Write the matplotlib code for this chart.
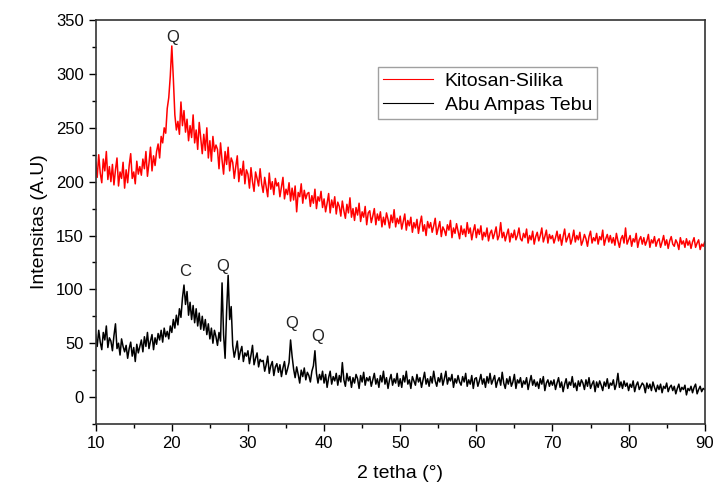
import numpy as np
import matplotlib
matplotlib.use("Agg")
import matplotlib.pyplot as plt
from matplotlib.ticker import MultipleLocator

plt.rcParams['font.family'] = ['Liberation Sans', 'DejaVu Sans']

# scan grid, 10..90 deg, step 0.2
two_theta = np.linspace(10, 90, 401)

# Kitosan-Silika (one row = 2 deg)
kitosan_silika = [
    218, 204, 225, 208, 199, 221, 210, 228, 202, 214,
    200, 216, 197, 211, 222, 196, 209, 203, 218, 194,
    211, 199, 215, 226, 203, 209, 198, 219, 207, 214,
    206, 221, 212, 228, 205, 217, 232, 210, 224, 215,
    228, 235, 222, 242, 236, 250, 245, 268, 278, 298,
    326, 296, 262, 248, 256, 244, 274, 252, 266, 246,
    258, 238, 252, 241, 262, 236, 248, 230, 255, 240,
    226, 244, 229, 250, 222, 238, 219, 242, 228, 234,
    230, 212, 236, 220, 207, 228, 216, 232, 210, 222,
    218, 203, 214, 224, 200, 212, 206, 219, 198, 211,
    207, 194, 213, 200, 191, 209, 203, 196, 212, 198,
    190, 204, 195, 186, 208, 193, 200, 188, 203, 196,
    199, 186, 195, 204, 184, 193, 188, 199, 182, 194,
    183, 196, 172, 190, 186, 198, 180, 192, 184, 189,
    190, 177, 187, 180, 193, 175, 186, 182, 191, 176,
    184, 172, 180, 189, 171, 183, 176, 186, 170, 181,
    177, 168, 182, 173, 166, 179, 171, 185, 167, 175,
    164, 176, 169, 180, 163, 172, 167, 177, 160, 171,
    173, 162, 168, 175, 160, 170, 164, 172, 158, 167,
    160, 171, 165, 157, 169, 162, 174, 158, 166, 161,
    168, 156, 163, 170, 155, 164, 159, 167, 153, 162,
    157, 165, 152, 161, 168, 154, 160, 150, 163, 157,
    162, 153, 159, 166, 151, 157, 163, 149, 158, 155,
    150, 160, 155, 164, 148, 157, 152, 161, 154, 147,
    159, 151, 156, 149, 162, 152, 157, 146, 154, 160,
    148, 156, 151, 159, 146, 153, 149, 157, 145, 152,
    155, 147, 152, 158, 146, 150, 162, 148, 153, 145,
    151, 156, 144, 152, 148, 155, 146, 150, 157, 147,
    145, 152, 148, 156, 143, 150, 146, 154, 142, 149,
    153, 145, 150, 157, 144, 149, 155, 143, 151, 147,
    150, 143, 148, 154, 145, 151, 141, 149, 156, 144,
    148, 152, 142, 147, 155, 144, 150, 146, 153, 141,
    145, 151, 147, 140, 149, 154, 143, 148, 145, 152,
    142, 149, 146, 155, 141, 147, 151, 144, 150, 143,
    148, 141, 152, 145, 139, 147, 150, 143, 157, 142,
    146, 150, 140, 147, 144, 152, 139, 146, 149, 142,
    148, 141, 145, 151, 139, 146, 143, 149, 140, 145,
    147, 139, 144, 150, 141, 146, 138, 145, 149, 142,
    140, 146, 143, 137, 148, 142, 145, 139, 147, 141,
    145, 138, 144, 148, 139, 143, 146, 137, 142, 140,
    144,
]

# Abu Ampas Tebu
abu_ampas_tebu = [
    58, 47, 62, 51, 44, 60, 53, 66, 46, 55,
    52, 43, 57, 68, 45, 50, 39, 54, 47, 42,
    48, 36, 45, 51, 38, 46, 33, 49, 41, 47,
    53, 42, 56, 47, 60, 45, 52, 58, 44, 55,
    49, 59, 53, 62, 51, 64, 56, 61, 54, 66,
    60, 72, 64, 76, 67, 82, 74, 92, 104, 86,
    98, 76, 88, 72, 85, 69, 82, 66, 78, 63,
    75, 62, 72, 58, 68, 54, 64, 50, 62, 56,
    48, 60, 52, 106, 58, 36, 80, 113, 72, 84,
    48, 37, 44, 52, 35, 42, 47, 33, 41, 38,
    43, 31, 39, 48, 30, 36, 41, 28, 35, 33,
    34, 24, 30, 38, 22, 29, 33, 20, 28, 31,
    23, 30, 19, 27, 33, 21, 26, 32, 53, 38,
    26, 18, 28, 21, 13, 25, 19, 27, 16, 23,
    20, 14, 24, 29, 43, 22, 13, 21, 16, 24,
    13, 21, 9, 18, 24, 12, 19, 15, 22, 11,
    20, 14, 32, 16, 10, 22, 15, 19, 9, 18,
    13, 21, 17, 8, 20, 14, 23, 11, 18, 15,
    19, 10, 16, 22, 12, 17, 9, 20, 14, 24,
    12, 18, 8, 16, 21, 11, 17, 13, 22, 10,
    17, 9, 20, 14, 24, 12, 16, 8, 19, 15,
    11, 21, 14, 18, 9, 16, 23, 12, 17, 10,
    19, 13, 24, 15, 10, 18, 14, 22, 11, 17,
    24, 12, 18, 15, 21, 9, 17, 13, 20, 14,
    11, 19, 14, 22, 10, 16, 12, 20, 8, 17,
    18, 10, 15, 21, 12, 17, 9, 19, 13, 22,
    12, 16, 20, 9, 15, 18, 11, 23, 13, 8,
    17, 12, 19, 10, 14, 21, 8, 16, 13, 18,
    9, 15, 12, 18, 7, 14, 20, 11, 16, 10,
    14, 8, 17, 12, 19, 6, 13, 16, 10, 15,
    11, 16, 7, 13, 18, 9, 14, 5, 12, 17,
    8, 14, 11, 19, 9, 13, 6, 15, 10, 16,
    13, 7, 16, 10, 18, 8, 12, 15, 5, 14,
    9, 15, 11, 6, 14, 10, 17, 8, 13, 11,
    16, 7, 12, 22, 9, 14, 8, 15, 10, 13,
    6, 12, 9, 15, 5, 11, 14, 7, 10, 13,
    11, 4, 13, 8, 12, 6, 14, 9, 5, 11,
    7, 12, 4, 10, 8, 13, 5, 9, 11, 6,
    10, 3, 8, 12, 5, 9, 7, 11, 2, 8,
    6, 10, 4, 9, 12, 3, 7, 10, 5, 8,
    7,
]

# peak labels: (text, x, y)
peak_text = ["Q", "C", "Q", "Q", "Q"]
peak_x = [20.1, 21.8, 26.7, 35.7, 39.2]
peak_y = [334, 117, 121, 68, 56]

fig = plt.figure(figsize=(7.14, 4.91), dpi=100)
ax = fig.add_axes([0.134, 0.1365, 0.853, 0.8225])

ax.plot(two_theta, kitosan_silika, color="red", lw=1.1, label="Kitosan-Silika")
ax.plot(two_theta, abu_ampas_tebu, color="black", lw=1.1, label="Abu Ampas Tebu")

for t, px, py in zip(peak_text, peak_x, peak_y):
    ax.text(px, py, t, ha="center", va="center", fontsize=12, color="#222222")

ax.set_xlim(10, 90)
ax.set_ylim(-25, 350)
ax.xaxis.set_major_locator(MultipleLocator(10))
ax.xaxis.set_minor_locator(MultipleLocator(5))
ax.yaxis.set_major_locator(MultipleLocator(50))
ax.yaxis.set_minor_locator(MultipleLocator(25))
ax.tick_params(which="major", direction="out", length=5, width=1, labelsize=12)
ax.tick_params(which="minor", direction="out", length=3, width=1)
for s in ax.spines.values():
    s.set_linewidth(1.2)
    s.set_color("#333333")

ax.set_xlabel("2 tetha (°)", fontsize=14, labelpad=10)
ax.set_ylabel("Intensitas (A.U)", fontsize=14, labelpad=6)

leg = ax.legend(loc="upper left", bbox_to_anchor=(0.463, 0.883), fontsize=14,
                frameon=True, fancybox=False, edgecolor="#888888",
                handlelength=2.6, handletextpad=0.6, borderpad=0.25,
                labelspacing=0.35, borderaxespad=0)
leg.get_frame().set_linewidth(1.0)
for ln in leg.get_lines():
    ln.set_linewidth(0.8)

fig.savefig("out.png", dpi=100)
